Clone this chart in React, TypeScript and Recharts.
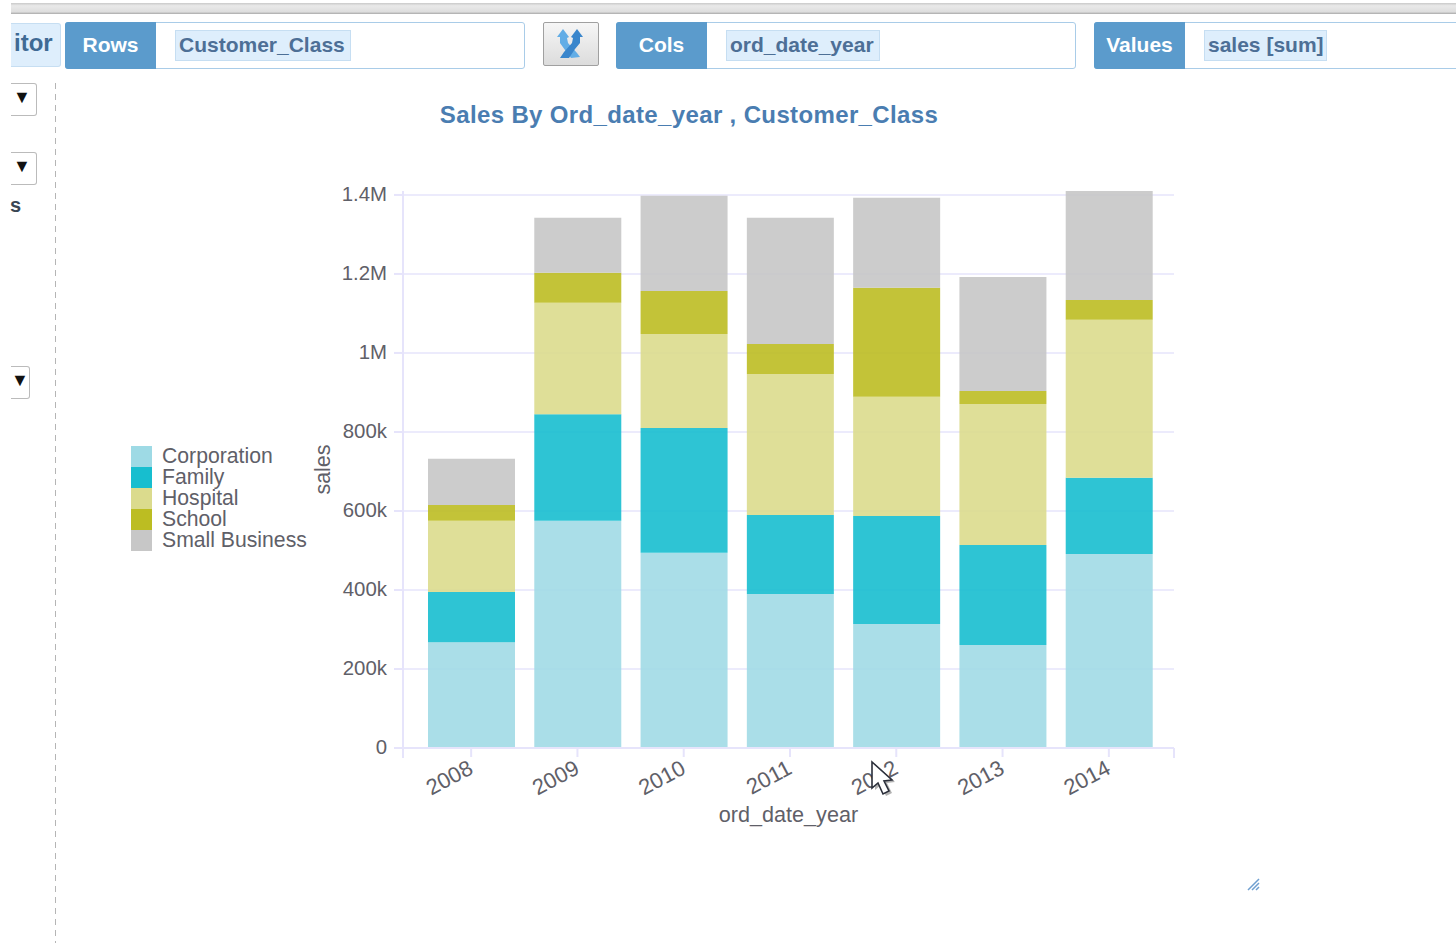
import React from 'react';
import { BarChart, Bar, XAxis, YAxis, CartesianGrid, Legend } from 'recharts';

const years = ['2008', '2009', '2010', '2011', '2012', '2013', '2014'];
const corporation = [268000, 575000, 494000, 390000, 314000, 261000, 491000];
const family = [127000, 270000, 316000, 200000, 273000, 253000, 193000];
const hospital = [180000, 282000, 238000, 357000, 302000, 357000, 400000];
const school = [40000, 76000, 109000, 76000, 276000, 33000, 50000];
const smallBusiness = [117000, 139000, 241000, 319000, 228000, 288000, 276000];
const yTicks = [0, 200000, 400000, 600000, 800000, 1000000, 1200000, 1400000];

const seriesNames = ['Corporation', 'Family', 'Hospital', 'School', 'Small Business'];
const seriesColors = ['#9edae5', '#17becf', '#dbdb8d', '#bcbd22', '#c7c7c7'];
const seriesValues = [corporation, family, hospital, school, smallBusiness];

const chartData = years.map((year, i) => {
  const row: Record<string, string | number> = { year };
  seriesNames.forEach((name, s) => {
    row[name] = seriesValues[s][i];
  });
  return row;
});

const FONT = '"Liberation Sans", Arial, sans-serif';
const TEXT = '#5f6068';
const AXIS = '#e6e4fb';
const BLUE = '#5b9bcc';

const formatTick = (v: number) => {
  if (v >= 1000000) return `${v / 1000000}M`;
  if (v > 0) return `${v / 1000}k`;
  return '0';
};

const abs = (left: number, top: number, width: number, height: number): React.CSSProperties => ({
  position: 'absolute',
  left,
  top,
  width,
  height,
  boxSizing: 'border-box',
});

const Shelf = ({ label, chip, left, width, chipWidth }: { label: string; chip: string; left: number; width: number; chipWidth: number }) => (
  <>
    <div style={{ ...abs(left, 22, width, 47), border: '1px solid #a9cce8', borderRadius: 3, background: '#fff' }} />
    <div
      style={{
        ...abs(left, 22, 91, 47),
        background: BLUE,
        borderRadius: '3px 0 0 3px',
        color: '#fff',
        fontWeight: 'bold',
        fontSize: 21,
        lineHeight: '45px',
        textAlign: 'center',
      }}
    >
      {label}
    </div>
    <div
      style={{
        ...abs(left + 110, 30, chipWidth, 31),
        background: '#deeefc',
        border: '1px solid #c6def2',
        color: '#4d6f96',
        fontWeight: 'bold',
        fontSize: 21,
        lineHeight: '28px',
        paddingLeft: 3,
        whiteSpace: 'nowrap',
      }}
    >
      {chip}
    </div>
  </>
);

const SelectStub = ({ top, right }: { top: number; right: number }) => (
  <div
    style={{
      ...abs(11, top, right - 11, 33),
      border: '1.5px solid #bbb',
      borderLeft: 'none',
      borderRadius: '0 3px 3px 0',
      color: '#111',
      fontSize: 18,
      lineHeight: '26px',
      paddingLeft: right > 32 ? 2 : 0,
      overflow: 'hidden',
    }}
  >
    ▼
  </div>
);

const LegendList = ({ payload }: any) => (
  <div style={{ fontFamily: FONT, fontSize: 21.2, color: TEXT }}>
    {(payload || []).map((item: any) => (
      <div key={item.value} style={{ display: 'flex', alignItems: 'center', height: 21 }}>
        <span style={{ width: 21, height: 21, background: item.color, marginRight: 10 }} />
        <span style={{ lineHeight: '19px', height: 21, whiteSpace: 'nowrap' }}>{item.value}</span>
      </div>
    ))}
  </div>
);

export default function App() {
  return (
    <div style={{ ...abs(0, 0, 1456, 943), overflow: 'hidden', background: '#fff', fontFamily: FONT }}>
      <div
        style={{
          ...abs(11, 3, 1445, 11),
          background: 'linear-gradient(#c9c9c9, #e9e9e9 25%, #dedede 80%, #a9a9a9)',
        }}
      />

      <div
        style={{
          ...abs(11, 23, 50, 44),
          background: '#deeefc',
          border: '1px solid #c6def2',
          borderLeft: 'none',
          borderRadius: '0 3px 3px 0',
          color: '#3f6a94',
          fontWeight: 'bold',
          fontSize: 24,
          lineHeight: '37px',
          paddingLeft: 3,
        }}
      >
        itor
      </div>

      <Shelf label="Rows" chip="Customer_Class" left={65} width={460} chipWidth={176} />
      <Shelf label="Cols" chip="ord_date_year" left={616} width={460} chipWidth={154} />
      <Shelf label="Values" chip="sales [sum]" left={1094} width={400} chipWidth={123} />

      <div
        style={{
          ...abs(543, 22, 56, 44),
          border: '1.5px solid #a0a0a0',
          borderRadius: 2,
          background: 'linear-gradient(#f6f6f6, #dcdcdc)',
        }}
      >
        <svg width={53} height={41}>
          <path d="M13 14 L19 6 L25 14 L23 15 L24 20 L33 30 L36 34 L27 35 L21 27 L16 20 L16 14 Z" fill="#62ade6" />
          <path d="M39 14 L33 6 L27 14 L29 15 L28 20 L20 29 L16 35 L25 35 L31 26 L36 20 L36 14 Z" fill="#3a86cc" />
        </svg>
      </div>

      <SelectStub top={83} right={37} />
      <SelectStub top={152} right={37} />
      <SelectStub top={366} right={30} />
      <div style={{ position: 'absolute', left: 10, top: 194, fontSize: 20, fontWeight: 'bold', color: '#3a4654', lineHeight: '22px' }}>s</div>
      <div
        style={{
          ...abs(55, 83, 1, 860),
          background: 'repeating-linear-gradient(#b5b5b5 0 6px, transparent 6px 11px)',
        }}
      />

      <div
        style={{
          position: 'absolute',
          left: 289,
          top: 100,
          width: 800,
          textAlign: 'center',
          fontWeight: 'bold',
          fontSize: 24,
          letterSpacing: 0.36,
          lineHeight: '30px',
          color: '#4a7db1',
          whiteSpace: 'nowrap',
        }}
      >
        Sales By Ord_date_year , Customer_Class
      </div>

      <div style={{ position: 'absolute', left: 0, top: 0 }}>
        <BarChart
          width={1456}
          height={943}
          data={chartData}
          margin={{ top: 191, right: 282, bottom: 125, left: 313 }}
        >
          <CartesianGrid horizontal vertical={false} horizontalValues={yTicks} stroke={AXIS} strokeWidth={1.5} />
          <XAxis
            dataKey="year"
            height={70}
            padding={{ left: 15, right: 12 }}
            stroke={AXIS}
            strokeWidth={2}
            tickSize={9}
            interval={0}
            angle={-28}
            textAnchor="end"
            tick={{ fill: TEXT, fontSize: 22, fontFamily: FONT, dx: -4 }}
            label={{
              value: 'ord_date_year',
              position: 'insideBottom',
              offset: -4,
              style: { fill: TEXT, fontSize: 21.6, fontFamily: FONT },
            }}
          />
          <YAxis
            width={90}
            domain={[0, 1410000]}
            ticks={yTicks}
            tickFormatter={formatTick}
            stroke={AXIS}
            strokeWidth={2}
            tickSize={9}
            tickMargin={7}
            tick={{ fill: TEXT, fontSize: 20.4, fontFamily: FONT, dy: -1 }}
            label={{
              value: 'sales',
              angle: -90,
              position: 'insideLeft',
              offset: 9,
              style: { fill: TEXT, fontSize: 21.5, fontFamily: FONT, textAnchor: 'middle' },
            }}
          />
          <Legend
            layout="horizontal"
            align="center"
            verticalAlign="middle"
            content={<LegendList />}
            wrapperStyle={{ left: 131, top: 446, width: 200, height: 105 }}
          />
          {seriesNames.map((name, s) => (
            <Bar
              key={name}
              dataKey={name}
              stackId="sales"
              fill={seriesColors[s]}
              fillOpacity={s === 0 ? 0.88 : 0.9}
              barSize={87}
              isAnimationActive={false}
            />
          ))}
        </BarChart>
      </div>

      {/* outer end ticks of the x axis */}
      <div style={{ ...abs(402, 748, 2, 10), background: AXIS }} />
      <div style={{ ...abs(1173, 748, 2, 10), background: AXIS }} />

      <svg style={{ position: 'absolute', left: 865, top: 758 }} width={34} height={42}>
        <path d="M8 4 L8 30 L14 25 L19 36 L25 33 L20 23 L28 22 Z" fill="rgba(0,0,0,0.3)" transform="translate(2,2)" />
        <path d="M7 4 L7 30 L13 25 L18 36 L24 33 L19 23 L27 22 Z" fill="#fff" stroke="#2b2f3a" strokeWidth={1.6} />
      </svg>

      <svg style={{ position: 'absolute', left: 1246, top: 878 }} width={16} height={14}>
        <path d="M2 12 L13 1 M6 12 L13 5 M10 12 L13 9" stroke="#6f9fd0" strokeWidth={1.5} />
      </svg>
    </div>
  );
}
